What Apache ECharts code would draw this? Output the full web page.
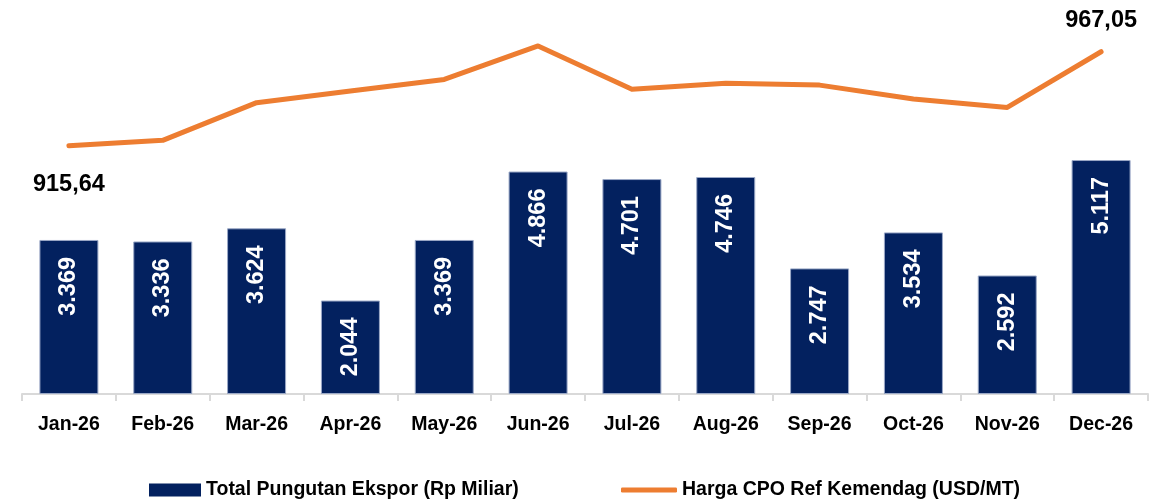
<!DOCTYPE html>
<html>
<head>
<meta charset="utf-8">
<script src="https://cdn.jsdelivr.net/npm/echarts@6/dist/echarts.min.js"></script>
<style>
  html, body { margin: 0; padding: 0; background: #fff; }
  #chart { width: 1162px; height: 502px; }
</style>
</head>
<body>
<div id="chart"></div>
<script>
var months = ['Jan-26', 'Feb-26', 'Mar-26', 'Apr-26', 'May-26', 'Jun-26', 'Jul-26', 'Aug-26', 'Sep-26', 'Oct-26', 'Nov-26', 'Dec-26'];
var pungutan = [3369, 3336, 3624, 2044, 3369, 4866, 4701, 4746, 2747, 3534, 2592, 5117];
var hargaCpo = [915.64, 918.6, 939.2, 945.6, 951.9, 970.2, 946.5, 949.8, 948.8, 941.2, 936.6, 967.05];

var fontFam = '"Liberation Sans", Arial, sans-serif';

// only first and last point get a label
var lineData = hargaCpo.map(function (v, i) {
  if (i === 0) {
    return { value: v, label: { show: true, position: 'bottom', distance: 27 } };
  }
  if (i === hargaCpo.length - 1) {
    return { value: v, label: { show: true, position: 'top', distance: 19 } };
  }
  return v;
});

var myChart = echarts.init(document.getElementById('chart'));
var option = {
  animation: false,
  grid: { left: 22, right: 14, top: 20, bottom: 108 },
  legend: [
    {
      left: 149,
      top: 480,
      padding: 0,
      itemWidth: 52,
      itemHeight: 13,
      icon: 'rect',
      itemStyle: { borderWidth: 0 },
      textStyle: { fontFamily: fontFam, fontWeight: 'bold', fontSize: 19.5, color: '#000' },
      data: ['Total Pungutan Ekspor (Rp Miliar)']
    },
    {
      left: 621,
      top: 480,
      padding: 0,
      itemWidth: 56,
      itemHeight: 5,
      icon: 'roundRect',
      textStyle: { fontFamily: fontFam, fontWeight: 'bold', fontSize: 19.5, color: '#000' },
      data: ['Harga CPO Ref Kemendag (USD/MT)']
    }
  ],
  xAxis: {
    type: 'category',
    data: months,
    axisLine: { lineStyle: { color: '#d9d9d9', width: 2 } },
    axisTick: { show: true, length: 7, lineStyle: { color: '#d9d9d9', width: 2 } },
    axisLabel: { interval: 0, margin: 21, color: '#000', fontFamily: fontFam, fontWeight: 'bold', fontSize: 19.5 }
  },
  yAxis: [
    { type: 'value', min: 0, max: 8180, show: false, splitLine: { show: false } },
    { type: 'value', min: 779.9, max: 984.4, show: false, splitLine: { show: false } }
  ],
  series: [
    {
      name: 'Total Pungutan Ekspor (Rp Miliar)',
      type: 'bar',
      barWidth: 59,
      yAxisIndex: 0,
      data: pungutan,
      itemStyle: { color: '#03215f', borderColor: '#9aa8c6', borderWidth: 1 },
      label: {
        show: true,
        position: 'insideTop',
        distance: 17,
        rotate: 90,
        align: 'right',
        verticalAlign: 'middle',
        color: '#fff',
        fontFamily: fontFam,
        fontWeight: 'bold',
        fontSize: 23.5,
        formatter: function (p) {
          return String(p.value).replace(/\B(?=(\d{3})+(?!\d))/g, '.');
        }
      }
    },
    {
      name: 'Harga CPO Ref Kemendag (USD/MT)',
      type: 'line',
      yAxisIndex: 1,
      data: lineData,
      symbol: 'circle',
      symbolSize: 0.1,
      lineStyle: { color: '#ed7d31', width: 5, cap: 'round', join: 'round' },
      itemStyle: { color: '#ed7d31' },
      label: {
        show: false,
        color: '#000',
        fontFamily: fontFam,
        fontWeight: 'bold',
        fontSize: 23.5,
        formatter: function (p) {
          return p.value.toFixed(2).replace('.', ',');
        }
      }
    }
  ]
};
myChart.setOption(option);
window.onresize = myChart.resize;
</script>
</body>
</html>
